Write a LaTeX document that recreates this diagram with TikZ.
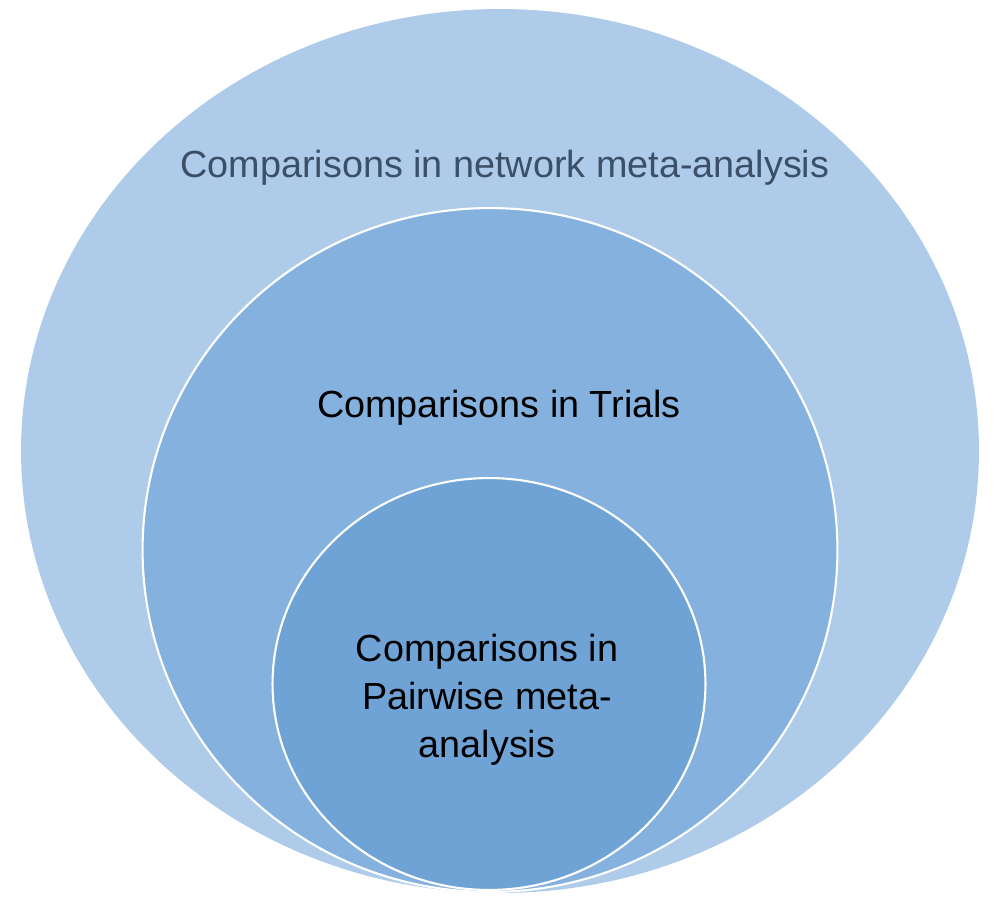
\documentclass[tikz,border=0pt]{standalone}
\usepackage{fontspec}
\setmainfont{Liberation Sans}
\usetikzlibrary{shapes.geometric}

\definecolor{nmaBlue}{HTML}{AECBEA}
\definecolor{trialBlue}{HTML}{85B1DF}
\definecolor{pairBlue}{HTML}{6FA3D6}
\definecolor{nmaText}{HTML}{3B4F66}

\begin{document}
\begin{tikzpicture}[
    x = 0.02cm,
    y = -0.02cm,
    ring/.style = {
      ellipse,
      draw = white,
      line width = 1.2pt,
      inner sep = 0pt,
      outer sep = 0pt
    },
    txt/.style = {
      font = \fontsize{21.5}{27.3}\selectfont,
      align = center,
      inner sep = 0pt
    }
  ]
  \useasboundingbox (0,0) rectangle (1000,913);

  \node[ring, fill=nmaBlue, draw=nmaBlue, minimum width=19.12cm, minimum height=17.64cm] (nma) at (500,451) {};
  \node[ring, fill=trialBlue, minimum width=13.9cm, minimum height=13.68cm] (trials) at (490,550) {};
  \node[ring, fill=pairBlue, minimum width=8.66cm, minimum height=8.24cm] (pairwise) at (489,684) {};

  \node[txt, text=nmaText, anchor=base] (nmaLabel) at (505,177) {Comparisons in network meta-analysis};
  \node[txt, anchor=base] (trialsLabel) at (499,417) {Comparisons in Trials};
  \node[txt] (pairwiseLabel) at (487,700) {Comparisons in\\Pairwise meta-\\analysis};
\end{tikzpicture}
\end{document}
